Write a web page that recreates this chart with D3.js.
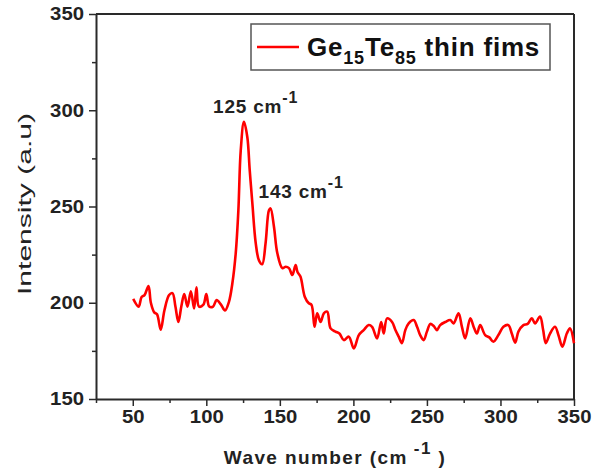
<!DOCTYPE html>
<html><head><meta charset="utf-8">
<script src="https://cdn.jsdelivr.net/npm/d3@7"></script>
<style>body{margin:0;background:#fff}svg{display:block}text{font-family:"Liberation Sans",Arial,sans-serif}</style>
</head><body><svg id="c" width="593" height="475"></svg>
<script>
const waveNumber = [50.3,54,56,58,60.7,62.3,64.6,66.5,69,71.5,74.7,77,79,81,83,85,87.2,89.5,91.7,93.3,95,98,100,102,104.6,107,110,112.7,115.4,117.7,120,121.8,123.4,125.6,127.9,129.5,131.3,133.6,135.8,138,140.3,142.6,143.7,146,148.3,151.7,154,156.2,158.5,160.7,162,164,167,169.7,171.5,173.6,175.4,177.7,179.9,182.2,184.5,187.8,190.5,193.5,196.9,200.3,203.7,207,210.4,212.7,216.1,218.9,220.6,222.9,226.3,228.5,230.8,233,235.3,237.6,241,243.3,245.5,247.8,250,252.3,254.5,256.8,259,262.5,265.9,268.1,271.5,273.8,276,279.5,282,284,286.2,289.6,292.4,295.2,298.6,302,305.4,307.7,310,312.2,315.6,318.5,321.3,323.5,326.9,329,330.8,333.7,337.1,339.5,342.1,345.1,347.3,350];
const intensity = [202,198,203,204,208.7,200,195,194,186,196,204,205,198,190,198,204.5,198,206,197,208,198,199,204.5,198,198,201.4,199,196,200.5,210,225.7,248,279,294,286,269,251.7,231,222,220,231,248,249,239.5,225.7,218,218.7,218,214.4,219.6,216,213.6,203,199.7,199,187.5,194.5,190,194.5,195.4,186.7,185,184,180.6,182.4,176.3,183.2,185.8,188.4,187.5,181.5,190,184,191.9,190,186,182.4,179,185.8,189.3,191,187.5,183,180.6,185,189,188,185.8,188.4,190,191,189.3,194.5,187.5,181.5,191.9,187,184,188.4,183.2,182,179.8,183.2,187.5,188.4,184,179.3,185,188.4,189,191.9,189.3,192.8,186,179,184,187.5,183,177.2,184,186.7,179];
const xTicks = [50,100,150,200,250,300,350];
const xMinor = [25,75,125,175,225,275,325];
const yTicks = [150,200,250,300,350];
const yMinor = [175,225,275,325];
const peakLabels = [{v:"125",wave:125},{v:"143",wave:143}];

const svg = d3.select("#c");
const L=96, R=574, T=14, B=399;
const x = d3.scaleLinear().domain([25,350]).range([L,R]);
const y = d3.scaleLinear().domain([150,350]).range([B,T]);
const axCol="#2a2a2a";

svg.append("line").attr("x1",L).attr("x2",R).attr("y1",T).attr("y2",T).attr("stroke",axCol).attr("stroke-width",2);
svg.append("line").attr("x1",R).attr("x2",R).attr("y1",T).attr("y2",B).attr("stroke",axCol).attr("stroke-width",2);

svg.append("g").attr("transform",`translate(0,${B})`)
  .call(d3.axisBottom(x).tickValues(xTicks).tickSize(7).tickSizeOuter(0).tickPadding(4));
svg.append("g").attr("transform",`translate(0,${B})`)
  .call(d3.axisBottom(x).tickValues(xMinor).tickSize(4).tickSizeOuter(0).tickFormat(""))
  .call(g=>g.select(".domain").remove());
svg.append("g").attr("transform",`translate(${L},0)`)
  .call(d3.axisLeft(y).tickValues(yTicks).tickSize(7).tickSizeOuter(0).tickPadding(5));
svg.append("g").attr("transform",`translate(${L},0)`)
  .call(d3.axisLeft(y).tickValues(yMinor).tickSize(4).tickSizeOuter(0).tickFormat(""))
  .call(g=>g.select(".domain").remove());
svg.selectAll(".domain").attr("stroke",axCol).attr("stroke-width",2);
svg.selectAll(".tick line").attr("stroke",axCol).attr("stroke-width",1.5);
svg.selectAll(".tick text").attr("fill","#222").attr("font-size",18).attr("font-weight","bold")
  .attr("font-family","'Liberation Sans',Arial,sans-serif")
  .attr("lengthAdjust","spacingAndGlyphs")
  .attr("textLength",function(){return this.textContent.length*11.3;});

const pts = waveNumber.map((w,i)=>[w,intensity[i]]);
svg.append("path").datum(pts).attr("fill","none").attr("stroke","#ff0000").attr("stroke-width",2.6)
  .attr("stroke-linejoin","round")
  .attr("d",d3.line().x(d=>x(d[0])).y(d=>y(d[1])).curve(d3.curveCatmullRom.alpha(0.5)));

const lblPos = [{dx:-30,y:113},{dx:-11,y:198}];
peakLabels.forEach((p,i)=>{
  const t = svg.append("text").attr("x",x(p.wave)+lblPos[i].dx).attr("y",lblPos[i].y)
    .attr("font-size",19).attr("font-weight","bold").attr("fill","#222").attr("letter-spacing",0.8);
  t.append("tspan").text(p.v+" cm");
  t.append("tspan").attr("dy",-10).attr("font-size",16).text("-1");
});

const xt = svg.append("text").attr("x",335).attr("y",464).attr("text-anchor","middle")
  .attr("font-size",19).attr("font-weight","bold").attr("fill","#222").attr("letter-spacing",1.4);
xt.append("tspan").text("Wave number (cm");
xt.append("tspan").attr("dy",-10).attr("font-size",17).text(" -1");
xt.append("tspan").attr("dy",10).text(" )");
svg.append("text").attr("transform","translate(31,204) rotate(-90)").attr("text-anchor","middle")
  .attr("font-size",18).attr("fill","#222")
  .attr("textLength",182).attr("lengthAdjust","spacingAndGlyphs").text("Intensity (a.u)");

svg.append("rect").attr("x",251).attr("y",24).attr("width",299).attr("height",46)
  .attr("fill","#fff").attr("stroke","#555").attr("stroke-width",1.5);
svg.append("line").attr("x1",257).attr("x2",299).attr("y1",47).attr("y2",47).attr("stroke","#ff0000").attr("stroke-width",2.6);
const lt = svg.append("text").attr("x",307).attr("y",56).attr("font-size",26).attr("font-weight","bold").attr("fill","#111").attr("letter-spacing",0.8);
lt.append("tspan").text("Ge");
lt.append("tspan").attr("dy",8).attr("font-size",18).text("15");
lt.append("tspan").attr("dy",-8).text("Te");
lt.append("tspan").attr("dy",8).attr("font-size",18).text("85");
lt.append("tspan").attr("dy",-8).text(" thin fims");
</script></body></html>
